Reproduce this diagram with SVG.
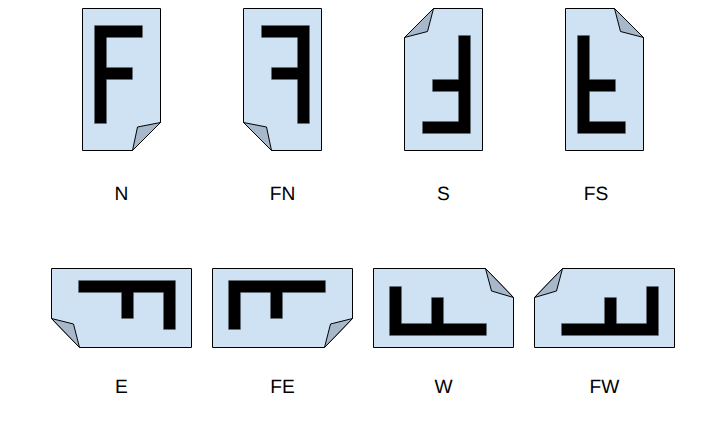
<svg xmlns="http://www.w3.org/2000/svg" width="713" height="422" viewBox="0 0 713 422">
<style>
.page{fill:#cfe2f3;stroke:#000;stroke-width:1;stroke-linejoin:miter}
.fold{fill:#a6b8c9;stroke:#000;stroke-width:1;stroke-linejoin:round}
.glyph{fill:#000;stroke:#5f6b75;stroke-width:.4}
text{font-family:"Liberation Sans",Arial,sans-serif;font-size:19.2px;fill:#000;text-anchor:middle;text-rendering:geometricPrecision}
</style>
<rect width="713" height="422" fill="#fff"/>
<g id="node-N">
<path class="page" d="M82.5 8.5H160.5V122.5L132.5 150.5H82.5Z"/>
<path class="fold" d="M160.5 122.5L137.5 127L132.5 150.5Z"/>
<path class="glyph" d="M94.5 25.5H142.5V37.5H106.5V67.5H132.5V79.5H106.5V123.5H94.5Z"/>
<text x="121.5" y="200">N</text>
</g>
<g id="node-FN">
<path class="page" d="M321.5 8.5H243.5V122.5L271.5 150.5H321.5Z"/>
<path class="fold" d="M243.5 122.5L266.5 127L271.5 150.5Z"/>
<path class="glyph" d="M309.5 25.5H261.5V37.5H297.5V67.5H271.5V79.5H297.5V123.5H309.5Z"/>
<text x="282.5" y="200">FN</text>
</g>
<g id="node-S">
<path class="page" d="M482.5 150.5H404.5V37.5L433.5 8.5H482.5Z"/>
<path class="fold" d="M404.5 37.5L427.5 31.5L433.5 8.5Z"/>
<path class="glyph" d="M470.5 133.5H422.5V121.5H458.5V91.5H432.5V79.5H458.5V35.5H470.5Z"/>
<text x="443.5" y="200">S</text>
</g>
<g id="node-FS">
<path class="page" d="M565.5 150.5H643.5V37.5L614.5 8.5H565.5Z"/>
<path class="fold" d="M643.5 37.5L620.5 31.5L614.5 8.5Z"/>
<path class="glyph" d="M577.5 133.5H625.5V121.5H589.5V91.5H615.5V79.5H589.5V35.5H577.5Z"/>
<text x="596" y="200">FS</text>
</g>
<g id="node-E">
<path class="page" d="M51.5 268.5H191.5V347.5H79.5L51.5 318.5Z"/>
<path class="fold" d="M51.5 318.5L73.5 324L79.5 347.5Z"/>
<path class="glyph" d="M78.5 280.5H175.5V329.5H163.5V292.5H133.5V318.5H121.5V292.5H78.5Z"/>
<text x="121.5" y="393">E</text>
</g>
<g id="node-FE">
<path class="page" d="M352.5 268.5H212.5V347.5H324.5L352.5 318.5Z"/>
<path class="fold" d="M352.5 318.5L330.5 324L324.5 347.5Z"/>
<path class="glyph" d="M325.5 280.5H228.5V329.5H240.5V292.5H270.5V318.5H282.5V292.5H325.5Z"/>
<text x="282.5" y="393">FE</text>
</g>
<g id="node-W">
<path class="page" d="M373.5 347.5H513.5V297.5L485.5 268.5H373.5Z"/>
<path class="fold" d="M513.5 297.5L491.5 291L485.5 268.5Z"/>
<path class="glyph" d="M486.5 335.5H389.5V286.5H401.5V323.5H431.5V297.5H443.5V323.5H486.5Z"/>
<text x="443.5" y="393">W</text>
</g>
<g id="node-FW">
<path class="page" d="M674.5 347.5H534.5V297.5L562.5 268.5H674.5Z"/>
<path class="fold" d="M534.5 297.5L556.5 291L562.5 268.5Z"/>
<path class="glyph" d="M561.5 335.5H658.5V286.5H646.5V323.5H616.5V297.5H604.5V323.5H561.5Z"/>
<text x="604.5" y="393">FW</text>
</g>
<g id="connectors"/>
</svg>
